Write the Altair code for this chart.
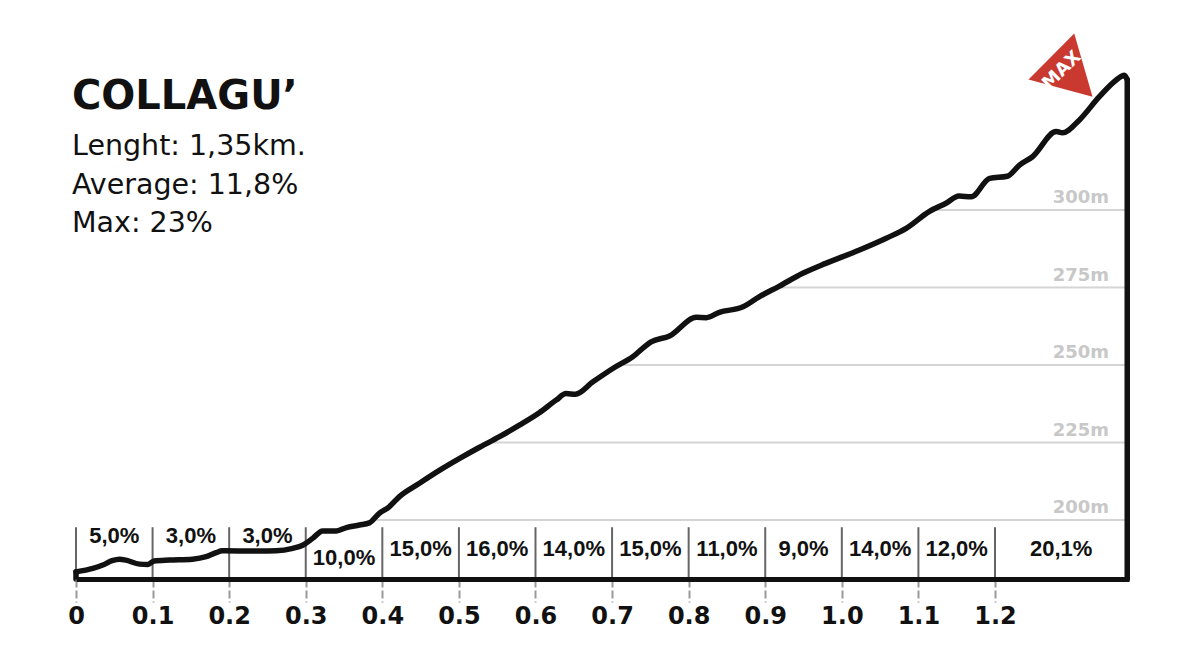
import altair as alt
import pandas as pd

# ---------------- data ----------------
dist_km = [0.0, 0.022, 0.035, 0.047, 0.057, 0.065, 0.083, 0.094, 0.102, 0.122,
           0.152, 0.170, 0.183, 0.191, 0.240, 0.261, 0.283, 0.296, 0.309, 0.322,
           0.340, 0.353, 0.370, 0.383, 0.396, 0.409, 0.422, 0.448, 0.475, 0.501,
           0.527, 0.553, 0.579, 0.605, 0.627, 0.640, 0.652, 0.675, 0.701, 0.727,
           0.751, 0.775, 0.810, 0.823, 0.840, 0.871, 0.892, 0.918, 0.949, 0.979,
           1.023, 1.058, 1.084, 1.114, 1.136, 1.153, 1.169, 1.193, 1.216, 1.232,
           1.249, 1.280, 1.288, 1.310, 1.336, 1.358, 1.369, 1.3727]
elev_m = [183.3, 184.4, 185.5, 186.9, 187.4, 187.1, 185.8, 185.7, 186.8, 187.1,
          187.4, 188.2, 189.5, 190.1, 190.0, 190.1, 190.9, 191.9, 194.1, 196.5,
          196.5, 197.6, 198.4, 199.1, 202.2, 204.3, 207.5, 211.8, 216.1, 219.9,
          223.5, 226.9, 230.6, 234.6, 238.7, 240.8, 240.6, 244.6, 248.9, 252.7,
          257.5, 259.4, 265.4, 265.3, 267.0, 268.8, 272.0, 275.4, 279.6, 282.8,
          287.1, 290.9, 294.1, 299.5, 302.2, 304.5, 304.3, 310.2, 310.9, 314.5,
          317.2, 325.3, 324.9, 329.0, 336.5, 341.9, 343.5, 342.0]
assert len(dist_km) == len(elev_m)

base_elev = 181.0
top_elev = 361.3
end_km = 1.3727

seg_start = [0.0, 0.1, 0.2, 0.3, 0.4, 0.5, 0.6, 0.7, 0.8, 0.9, 1.0, 1.1, 1.2]
seg_end = [0.1, 0.2, 0.3, 0.4, 0.5, 0.6, 0.7, 0.8, 0.9, 1.0, 1.1, 1.2, end_km]
seg_labels = ["5,0%", "3,0%", "3,0%", "10,0%", "15,0%", "16,0%", "14,0%",
              "15,0%", "11,0%", "9,0%", "14,0%", "12,0%", "20,1%"]
seg_label_elev = [194.8, 194.8, 194.8, 187.9, 190.6, 190.6, 190.6,
                  190.6, 190.6, 190.6, 190.6, 190.6, 190.6]

grid_levels = [200, 225, 250, 275, 300]
grid_labels = ["200m", "225m", "250m", "275m", "300m"]

tick_values = [0.0, 0.1, 0.2, 0.3, 0.4, 0.5, 0.6, 0.7, 0.8, 0.9, 1.0, 1.1, 1.2]

title_text = "COLLAGU\u2019"
stats_lines = ["Lenght: 1,35km.", "Average: 11,8%", "Max: 23%"]

# ---------------- tables ----------------
profile = pd.DataFrame({"km": dist_km, "elev": elev_m})
segs = pd.DataFrame({
    "start": seg_start,
    "end": seg_end,
    "label": seg_labels,
    "lev": seg_label_elev,
})
segs["mid"] = (segs["start"] + segs["end"]) / 2
grid = pd.DataFrame({"lev": grid_levels, "label": grid_labels})
edges = pd.DataFrame({"km": [0.0, end_km],
                      "top": [elev_m[0], elev_m[-1]],
                      "bot": [base_elev, base_elev]})

W, H = 1053, 559
xs = alt.Scale(domain=[0, 1.375], nice=False, zero=False)
ys = alt.Scale(domain=[base_elev, top_elev], nice=False, zero=False)

INK = "#111111"

XAX = alt.Axis(
    values=tick_values, title=None, grid=False,
    domain=True, domainColor=INK, domainWidth=5,
    ticks=True, tickSize=23, tickColor="#9a9a9a", tickWidth=2, tickDash=[8, 3],
    labelExpr="datum.value == 0 ? '0' : format(datum.value, '.1f')",
    labelFont="DejaVu Sans", labelFontWeight="bold", labelFontSize=24,
    labelColor=INK, labelPadding=2, labelOverlap=False, labelFlush=False,
    zindex=1,
)

gridlines = alt.Chart(grid).mark_rule(color="#d4d4d4", strokeWidth=2).encode(
    x=alt.datum(0.0, scale=xs, axis=XAX),
    x2=alt.datum(end_km),
    y=alt.Y("lev:Q", scale=ys, axis=None),
)

grid_text = alt.Chart(grid).mark_text(
    align="right", baseline="alphabetic", dy=-7, color="#c8c8c8",
    font="DejaVu Sans", fontWeight="bold", fontSize=18,
).encode(
    x=alt.datum(1.349, scale=xs, axis=XAX),
    y=alt.Y("lev:Q", scale=ys, axis=None),
    text="label:N",
)

# white mask above the profile hides the grid there
mask = alt.Chart(profile).mark_area(color="white", interpolate="monotone").encode(
    x=alt.X("km:Q", scale=xs, axis=XAX),
    y=alt.Y("elev:Q", scale=ys, axis=None),
    y2=alt.datum(top_elev),
)

dividers = alt.Chart(segs).mark_rule(color="#666666", strokeWidth=2).encode(
    x=alt.X("start:Q", scale=xs, axis=XAX),
    y=alt.datum(197.7, scale=ys, axis=None),
    y2=alt.datum(base_elev),
)

seg_text = alt.Chart(segs).mark_text(
    align="center", baseline="middle", color=INK,
    font="Liberation Sans", fontWeight="bold", fontSize=22,
).encode(
    x=alt.X("mid:Q", scale=xs, axis=XAX),
    y=alt.Y("lev:Q", scale=ys, axis=None),
    text="label:N",
)

line = alt.Chart(profile).mark_line(
    color=INK, strokeWidth=5.5, interpolate="monotone",
    strokeCap="round", strokeJoin="round",
).encode(
    x=alt.X("km:Q", scale=xs, axis=XAX),
    y=alt.Y("elev:Q", scale=ys, axis=None),
)

edge_rules = alt.Chart(edges).mark_rule(color=INK, strokeWidth=5.5, strokeCap="round").encode(
    x=alt.X("km:Q", scale=xs, axis=XAX),
    y=alt.Y("top:Q", scale=ys, axis=None),
    y2="bot:Q",
)

one = pd.DataFrame({"k": [1]})

max_tri = alt.Chart(one).mark_point(
    shape="M -0.915 0.2375 L 0.2275 -0.9125 L 0.685 0.6725 Z",
    size=6400, filled=True, color="#c9392f", opacity=1, strokeWidth=0,
).encode(
    x=alt.datum(1.2916, scale=xs, axis=XAX),
    y=alt.datum(345.2, scale=ys, axis=None),
)

max_text = alt.Chart(one).mark_text(
    text="MAX", angle=315, align="center", baseline="middle", color="white",
    font="DejaVu Sans", fontWeight="bold", fontSize=18,
).encode(
    x=alt.datum(1.2875, scale=xs, axis=XAX),
    y=alt.datum(345.0, scale=ys, axis=None),
)

title_layer = alt.Chart(one).mark_text(
    text=title_text, align="left", baseline="alphabetic", x=-4, y=88.5,
    font="DejaVu Sans", fontWeight="bold", fontSize=40, color=INK,
)

stat_layers = []
for i, s in enumerate(stats_lines):
    stat_layers.append(alt.Chart(one).mark_text(
        text=s, align="left", baseline="alphabetic", x=-4, y=135 + i * 38.5,
        font="DejaVu Sans", fontWeight=500, fontSize=28.5, color=INK,
    ))

chart = alt.layer(
    gridlines, grid_text, mask, dividers, seg_text, line, edge_rules,
    max_tri, max_text, title_layer, *stat_layers,
).properties(
    width=W, height=H,
    padding={"left": 68, "top": 12, "right": 55, "bottom": 83},
    autosize=alt.AutoSizeParams(type="none"),
    background="white",
).configure_view(strokeWidth=0)

chart.save("out.html", embed_options={"renderer": "svg", "actions": False})
